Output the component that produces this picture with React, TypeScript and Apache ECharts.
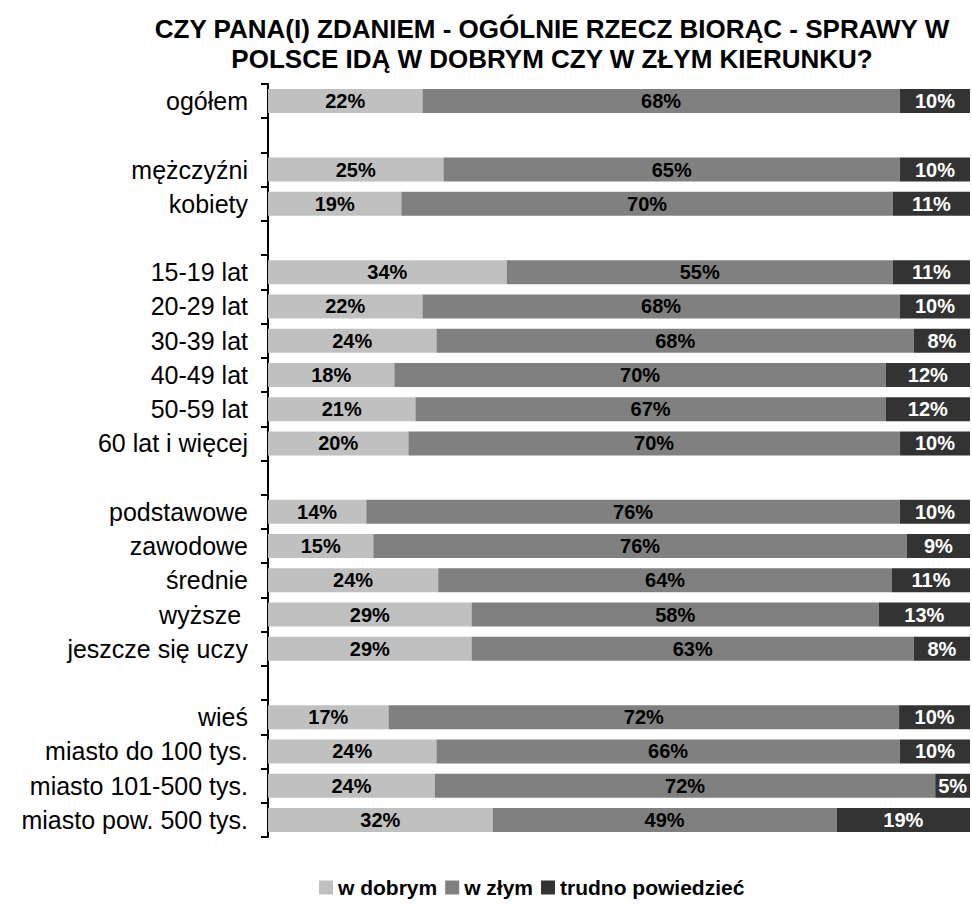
import React, { useEffect, useRef } from "react";
import * as echarts from "echarts";

const categories = [
  "ogółem", "",
  "mężczyźni", "kobiety", "",
  "15-19 lat", "20-29 lat", "30-39 lat", "40-49 lat", "50-59 lat", "60 lat i więcej", "",
  "podstawowe", "zawodowe", "średnie", "wyższe ", "jeszcze się uczy", "",
  "wieś", "miasto do 100 tys.", "miasto 101-500 tys.", "miasto pow. 500 tys.",
];
const good = [22, null, 25, 19, null, 34, 22, 24, 18, 21, 20, null, 14, 15, 24, 29, 29, null, 17, 24, 24, 32];
const bad = [68, null, 65, 70, null, 55, 68, 68, 70, 67, 70, null, 76, 76, 64, 58, 63, null, 72, 66, 72, 49];
const hard = [10, null, 10, 11, null, 11, 10, 8, 12, 12, 10, null, 10, 9, 11, 13, 8, null, 10, 10, 5, 19];
const seriesNames = ["w dobrym", "w złym", "trudno powiedzieć"];
const colors = ["#c0c0c0", "#808080", "#333333"];

const FONT = "'Liberation Sans', Arial, sans-serif";

export default function App() {
  const ref = useRef<HTMLDivElement>(null);
  useEffect(() => {
    if (!ref.current) return;
    const chart = echarts.init(ref.current, null, { renderer: "svg" });
    const raw = [good, bad, hard];
    const totals = categories.map((_, i) =>
      raw.reduce((s, arr) => s + (arr[i] == null ? 0 : (arr[i] as number)), 0)
    );
    const series = raw.map((arr, si) => ({
      name: seriesNames[si],
      type: "bar",
      stack: "all",
      barWidth: 24,
      itemStyle: { color: colors[si] },
      label: {
        show: true,
        position: "inside",
        fontFamily: FONT,
        fontWeight: "bold",
        fontSize: 20,
        color: si === 2 ? "#ffffff" : "#000000",
        formatter: (p: any) => (arr[p.dataIndex] == null ? "" : arr[p.dataIndex] + "%"),
      },
      data: arr.map((v, i) => (v == null ? null : ((v as number) / totals[i]) * 100)),
    }));
    chart.setOption({
      animation: false,
      textStyle: { fontFamily: FONT },
      title: {
        text: "CZY PANA(I) ZDANIEM - OGÓLNIE RZECZ BIORĄC - SPRAWY W\nPOLSCE IDĄ W DOBRYM CZY W ZŁYM KIERUNKU?",
        left: 547,
        top: 9,
        textAlign: "center",
        textStyle: { fontFamily: FONT, fontWeight: "bold", fontSize: 26, lineHeight: 30, color: "#000" },
      },
      legend: {
        left: 314,
        top: 872,
        itemWidth: 14,
        itemHeight: 14,
        itemGap: 8,
        icon: "rect",
        textStyle: { fontFamily: FONT, fontWeight: "bold", fontSize: 21, color: "#000" },
        data: seriesNames,
      },
      grid: { left: 268, right: 2, top: 84, bottom: 68, containLabel: false },
      xAxis: { type: "value", min: 0, max: 100, show: false },
      yAxis: {
        type: "category",
        inverse: true,
        data: categories,
        axisLine: { show: true, lineStyle: { color: "#000", width: 2 } },
        axisTick: { show: true, inside: false, length: 7, lineStyle: { color: "#000", width: 2 } },
        axisLabel: { fontFamily: FONT, fontSize: 25, color: "#000", margin: 20, interval: 0 },
        splitLine: { show: false },
      },
      series,
    });
    return () => chart.dispose();
  }, []);
  return <div ref={ref} style={{ position: "fixed", left: 0, top: 0, width: 972, height: 905, background: "#fff" }} />;
}
